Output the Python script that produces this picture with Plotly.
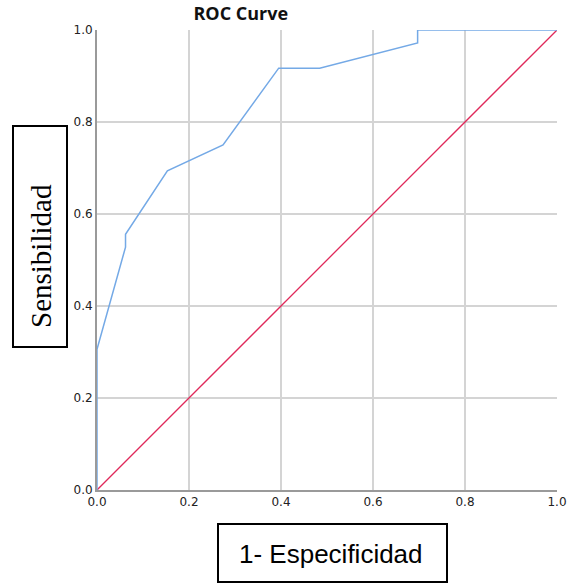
import plotly.graph_objects as go

fpr = [0.0, 0.0, 0.062, 0.062, 0.153, 0.274, 0.395, 0.484, 0.697, 0.697, 1.0]
tpr = [0.0, 0.306, 0.528, 0.556, 0.694, 0.750, 0.917, 0.917, 0.972, 1.0, 1.0]
ref_x = [0.0, 1.0]
ref_y = [0.0, 1.0]
ticks = [0.0, 0.2, 0.4, 0.6, 0.8, 1.0]
tick_text = ["0.0", "0.2", "0.4", "0.6", "0.8", "1.0"]

W, H = 568, 584
L, R, T, B = 97, 11, 30, 94
pw, ph = W - L - R, H - T - B

def px(x):
    return (x - L) / pw

def py(y):
    return (H - B - y) / ph

fig = go.Figure()
fig.add_trace(go.Scatter(x=ref_x, y=ref_y, mode="lines",
                         line=dict(color="#e0295a", width=1.3),
                         cliponaxis=False, showlegend=False, hoverinfo="skip"))
fig.add_trace(go.Scatter(x=fpr, y=tpr, mode="lines",
                         line=dict(color="#74a9e6", width=1.5),
                         cliponaxis=False, showlegend=False, hoverinfo="skip"))

axis_common = dict(range=[0, 1], tickvals=ticks, ticktext=tick_text,
                   showgrid=True, gridcolor="#d4d4d4", gridwidth=1.5,
                   zeroline=False, showline=True, linecolor="#9a9a9a", linewidth=2,
                   ticks="", tickfont=dict(family="DejaVu Sans", size=12, color="#222"),
                   layer="below traces", fixedrange=True, automargin=False)

fig.update_layout(
    width=W, height=H,
    margin=dict(l=L, r=R, t=T, b=B, autoexpand=False),
    paper_bgcolor="white", plot_bgcolor="white",
    xaxis=dict(**axis_common),
    yaxis=dict(**axis_common),
    title=dict(text="<b>ROC Curve</b>", x=px(292), xanchor="center",
               y=1 - 14 / H, yanchor="middle",
               font=dict(family="Open Sans", size=18, color="#111")),
    shapes=[
        dict(type="rect", xref="paper", yref="paper",
             x0=px(13), x1=px(67), y0=py(347), y1=py(126),
             line=dict(color="black", width=2)),
        dict(type="rect", xref="paper", yref="paper",
             x0=px(218), x1=px(447), y0=py(582), y1=py(524),
             line=dict(color="black", width=2)),
    ],
    annotations=[
        dict(text="Sensibilidad", xref="paper", yref="paper",
             x=px(41), y=py(256), xanchor="center", yanchor="middle",
             textangle=-90, showarrow=False,
             font=dict(family="Liberation Serif", size=29, color="black")),
        dict(text="1- Especificidad", xref="paper", yref="paper",
             x=px(331), y=py(554), xanchor="center", yanchor="middle",
             showarrow=False,
             font=dict(family="Liberation Sans", size=26, color="black")),
    ],
)

fig.write_html("out.html")
